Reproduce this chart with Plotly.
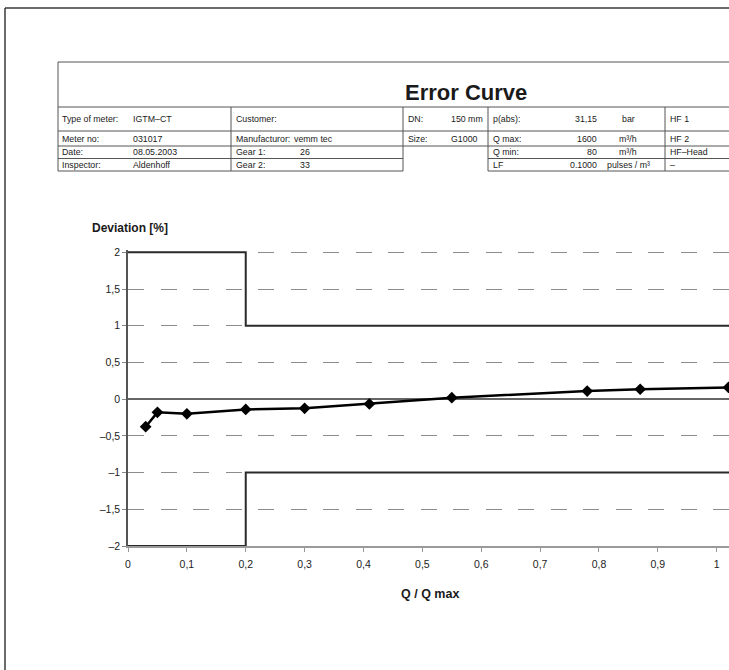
import plotly.graph_objects as go

# ---------------- data ----------------
q_ratio = [0.03, 0.05, 0.10, 0.20, 0.30, 0.41, 0.55, 0.78, 0.87, 1.02]
deviation = [-0.375, -0.18, -0.20, -0.14, -0.125, -0.065, 0.02, 0.11, 0.135, 0.16]

upper_limit_x = [0, 0.2, 0.2, 1.05]
upper_limit_y = [2, 2, 1, 1]
lower_limit_x = [0, 0.2, 0.2, 1.05]
lower_limit_y = [-2, -2, -1, -1]

x_ticks = [0, 0.1, 0.2, 0.3, 0.4, 0.5, 0.6, 0.7, 0.8, 0.9, 1.0]
x_tick_labels = ["0", "0,1", "0,2", "0,3", "0,4", "0,5", "0,6", "0,7", "0,8", "0,9", "1"]
y_ticks = [-2, -1.5, -1, -0.5, 0, 0.5, 1, 1.5, 2]
y_tick_labels = ["–2", "–1,5", "–1", "–0,5", "0", "0,5", "1", "1,5", "2"]

title_text = "Error Curve"
y_title = "Deviation [%]"
x_title = "Q / Q max"

left_labels = ["Type of meter:", "Meter no:", "Date:", "Inspector:"]
left_values = ["IGTM–CT", "031017", "08.05.2003", "Aldenhoff"]
mid_labels = ["Customer:", "Manufacturor:", "Gear 1:", "Gear 2:"]
mid_values = ["", "vemm tec", "26", "33"]
dn_labels = ["DN:", "Size:", "", ""]
dn_values = ["150 mm", "G1000", "", ""]
p_labels = ["p(abs):", "Q max:", "Q min:", "LF"]
p_values = ["31,15", "1600", "80", "0.1000"]
p_units = ["bar", "m³/h", "m³/h", "pulses / m³"]
hf_labels = ["HF 1", "HF 2", "HF–Head", "–"]

# ---------------- layout geometry (pixels) ----------------
W, H = 729, 670
ML, MR, MT, MB = 128, 0, 250, 124
PW, PH = W - ML - MR, H - MT - MB


def xp(px):
    return (px - ML) / PW


def yp(py):
    return (H - MB - py) / PH


FONT = "Liberation Sans, Arial, Helvetica, sans-serif"

fig = go.Figure()

fig.add_trace(go.Scatter(x=upper_limit_x, y=upper_limit_y, mode="lines",
                         line=dict(color="#2a2a2a", width=2), hoverinfo="skip"))
fig.add_trace(go.Scatter(x=lower_limit_x, y=lower_limit_y, mode="lines",
                         line=dict(color="#2a2a2a", width=2), hoverinfo="skip"))
fig.add_trace(go.Scatter(x=q_ratio, y=deviation, mode="lines+markers",
                         line=dict(color="#000000", width=2.5),
                         marker=dict(symbol="diamond", size=9, color="#000000")))

shapes = []


def hline(y, x0, x1, color="#555", width=1):
    shapes.append(dict(type="line", xref="paper", yref="paper",
                       x0=xp(x0), x1=xp(x1), y0=yp(y), y1=yp(y),
                       line=dict(color=color, width=width)))


def vline(x, y0, y1, color="#555", width=1):
    shapes.append(dict(type="line", xref="paper", yref="paper",
                       x0=xp(x), x1=xp(x), y0=yp(y0), y1=yp(y1),
                       line=dict(color=color, width=width)))


# page border
hline(8, 5, 740, color="#3a3a3a", width=1.5)
vline(5, 8, 680, color="#3a3a3a", width=1.5)

# header table
T_TOP = 62
ROWS = [107, 131, 146, 158.5, 171]
hline(T_TOP, 58, 740)
vline(58, T_TOP, ROWS[-1])
hline(ROWS[0], 58, 740)
hline(ROWS[1], 58, 740)
hline(ROWS[2], 58, 740)
hline(ROWS[3], 58, 403)
hline(ROWS[3], 488, 740)
hline(ROWS[4], 58, 403)
hline(ROWS[4], 488, 740)
for vx in [231, 403, 488, 665]:
    vline(vx, ROWS[0], ROWS[-1])

annotations = []


def txt(s, x, y, size=8.8, anchor="left", bold=False):
    if not s:
        return
    annotations.append(dict(text=("<b>%s</b>" % s) if bold else s,
                            x=xp(x), y=yp(y), xref="paper", yref="paper",
                            xanchor=anchor, yanchor="middle", showarrow=False,
                            font=dict(family=FONT, size=size, color="#1a1a1a")))


row_c = [(ROWS[i] + ROWS[i + 1]) / 2 for i in range(4)]
for i in range(4):
    y = row_c[i]
    txt(left_labels[i], 60, y)
    txt(left_values[i], 131, y)
    txt(mid_labels[i], 234, y)
    txt(mid_values[i], 292 if i == 1 else 298, y)
    txt(dn_labels[i], 406, y)
    txt(dn_values[i], 449, y)
    txt(p_labels[i], 491, y)
    txt(p_values[i], 599, y, anchor="right")
    txt(p_units[i], 628, y, anchor="center")
    txt(hf_labels[i], 668, y)

txt(title_text, 466, 93, size=22, anchor="center", bold=True)
txt(y_title, 90, 228, size=12, bold=True)
txt(x_title, 430, 594, size=12.5, anchor="center", bold=True)

fig.update_layout(
    width=W, height=H,
    margin=dict(l=ML, r=MR, t=MT, b=MB, pad=0),
    paper_bgcolor="white", plot_bgcolor="white",
    showlegend=False,
    shapes=shapes, annotations=annotations,
    font=dict(family=FONT, color="#222"),
)

fig.update_xaxes(range=[0, (W - ML) / 588.7], tickvals=x_ticks, ticktext=x_tick_labels,
                 showgrid=False, zeroline=False, showline=True, linecolor="#9a9a9a",
                 linewidth=1.5, ticks="outside", ticklen=4, tickcolor="#9a9a9a",
                 tickfont=dict(family=FONT, size=10.5, color="#222"),
                 ticklabelstandoff=4)
fig.update_yaxes(range=[-2, -2 + PH / 73.43], tickvals=y_ticks, ticktext=y_tick_labels,
                 showgrid=True, gridcolor="#8c8c8c", gridwidth=1.2, griddash="16px,16.5px",
                 zeroline=True, zerolinecolor="#666", zerolinewidth=1.5,
                 showline=True, linecolor="#555", linewidth=1.5,
                 ticks="outside", ticklen=4, tickcolor="#888",
                 tickfont=dict(family=FONT, size=10.5, color="#222"))

fig.write_html(
    "out.html",
    config={"displayModeBar": False},
    post_script="document.body.style.margin='0';document.body.style.overflow='hidden';",
)
